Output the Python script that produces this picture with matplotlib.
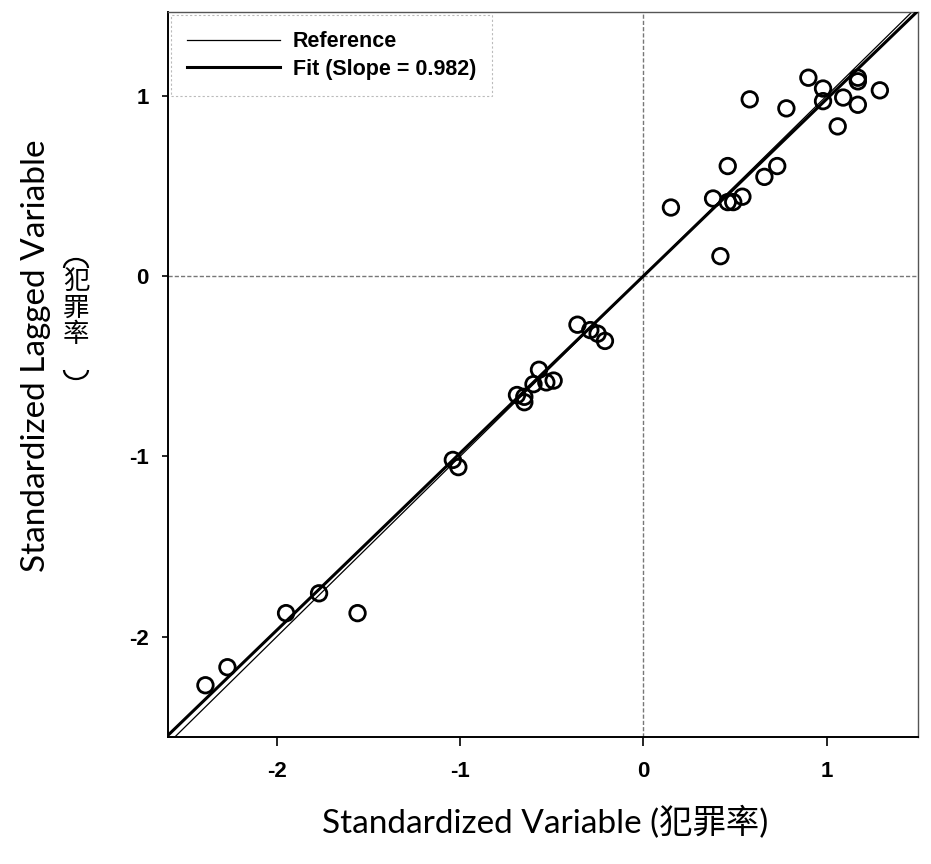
import numpy as np
import matplotlib
matplotlib.use("Agg")
import matplotlib.pyplot as plt
from matplotlib.patches import Arc

# standardized crime rate (x) and its spatial lag (y)
z_value = [-2.39, -2.27, -1.95, -1.77, -1.56, -1.04, -1.01, -0.69, -0.65, -0.65,
           -0.60, -0.57, -0.53, -0.49, -0.36, -0.29, -0.25, -0.21, 0.15, 0.38,
           0.42, 0.46, 0.46, 0.49, 0.54, 0.58, 0.66, 0.73, 0.78, 0.90,
           0.98, 0.98, 1.06, 1.09, 1.17, 1.17, 1.17, 1.29]
lag_value = [-2.27, -2.17, -1.87, -1.76, -1.87, -1.02, -1.06, -0.66, -0.67, -0.70,
             -0.60, -0.52, -0.59, -0.58, -0.27, -0.30, -0.32, -0.36, 0.38, 0.43,
             0.11, 0.61, 0.41, 0.41, 0.44, 0.98, 0.55, 0.61, 0.93, 1.10,
             1.04, 0.97, 0.83, 0.99, 1.10, 1.08, 0.95, 1.03]
slope = 0.982
ticks = [-2, -1, 0, 1]
tick_labels = ["-2", "-1", "0", "1"]

label_font = ["Lato", "Noto Sans CJK TC", "DejaVu Sans"]
cjk_font = ["Noto Sans CJK TC", "DejaVu Sans"]
tick_font = ["Liberation Sans", "DejaVu Sans"]

W, H = 931, 864
fig = plt.figure(figsize=(W / 100, H / 100), dpi=100)
ax = fig.add_axes([0.1805, 0.147, 0.8055, 0.839])

xlim = (-2.594, 1.498)
ylim = (-2.557, 1.464)
ax.set_xlim(xlim)
ax.set_ylim(ylim)

ax.axhline(0, color="#777777", lw=1.0, linestyle=(0, (3, 1.5)), zorder=1)
ax.axvline(0, color="#777777", lw=1.0, linestyle=(0, (3, 1.5)), zorder=1)

xs = np.array(xlim)
ax.plot(xs, xs, color="black", lw=0.9, label="Reference", zorder=2)
ax.plot(xs, slope * xs, color="black", lw=2.2,
        label="Fit (Slope = {})".format(slope), zorder=3)

ax.scatter(z_value, lag_value, s=125, facecolors="none", edgecolors="black",
           linewidths=2.0, zorder=4)

ax.set_xticks(ticks)
ax.set_xticklabels(tick_labels)
ax.set_yticks(ticks)
ax.set_yticklabels(tick_labels)
ax.tick_params(axis="x", direction="out", length=6.5, width=1.2, pad=11)
ax.tick_params(axis="y", direction="out", length=4, width=1.2, pad=10)
for lab in ax.get_xticklabels() + ax.get_yticklabels():
    lab.set_fontfamily(tick_font)
    lab.set_fontweight("bold")
    lab.set_fontsize(16)

for side in ["left", "bottom"]:
    ax.spines[side].set_linewidth(1.4)
for side in ["top", "right"]:
    ax.spines[side].set_linewidth(1.0)
    ax.spines[side].set_color("#555555")

leg = ax.legend(loc="upper left", frameon=True, fancybox=False,
                prop={"family": tick_font, "weight": "bold", "size": 15.5},
                handlelength=4.3, handletextpad=0.6, labelspacing=0.3,
                borderpad=0.75, borderaxespad=0.15)
leg.get_frame().set_edgecolor("#aaaaaa")
leg.get_frame().set_linewidth(0.8)
leg.get_frame().set_linestyle((0, (2, 2)))

fig.text(0.585, 0.0475, "Standardized Variable (犯罪率)", family=label_font,
         fontsize=24, ha="center", va="center")
fig.text(0.0387, 0.588, "Standardized Lagged Variable", family=label_font,
         fontsize=24, rotation=90, ha="center", va="center")

# second line of the y label, written vertically with bracket arcs
fig.text(76 / W, 1 - 308 / H, "犯\n罪\n率", family=cjk_font,
         fontsize=19, ha="center", va="center", linespacing=1.0)
fig.add_artist(Arc((76 / W, 1 - 268 / H), 24 / W, 18 / H, theta1=0, theta2=180,
                   transform=fig.transFigure, color="black", lw=1.6))
fig.add_artist(Arc((76 / W, 1 - 370 / H), 24 / W, 18 / H, theta1=180, theta2=360,
                   transform=fig.transFigure, color="black", lw=1.6))

fig.savefig("out.png", dpi=100)
